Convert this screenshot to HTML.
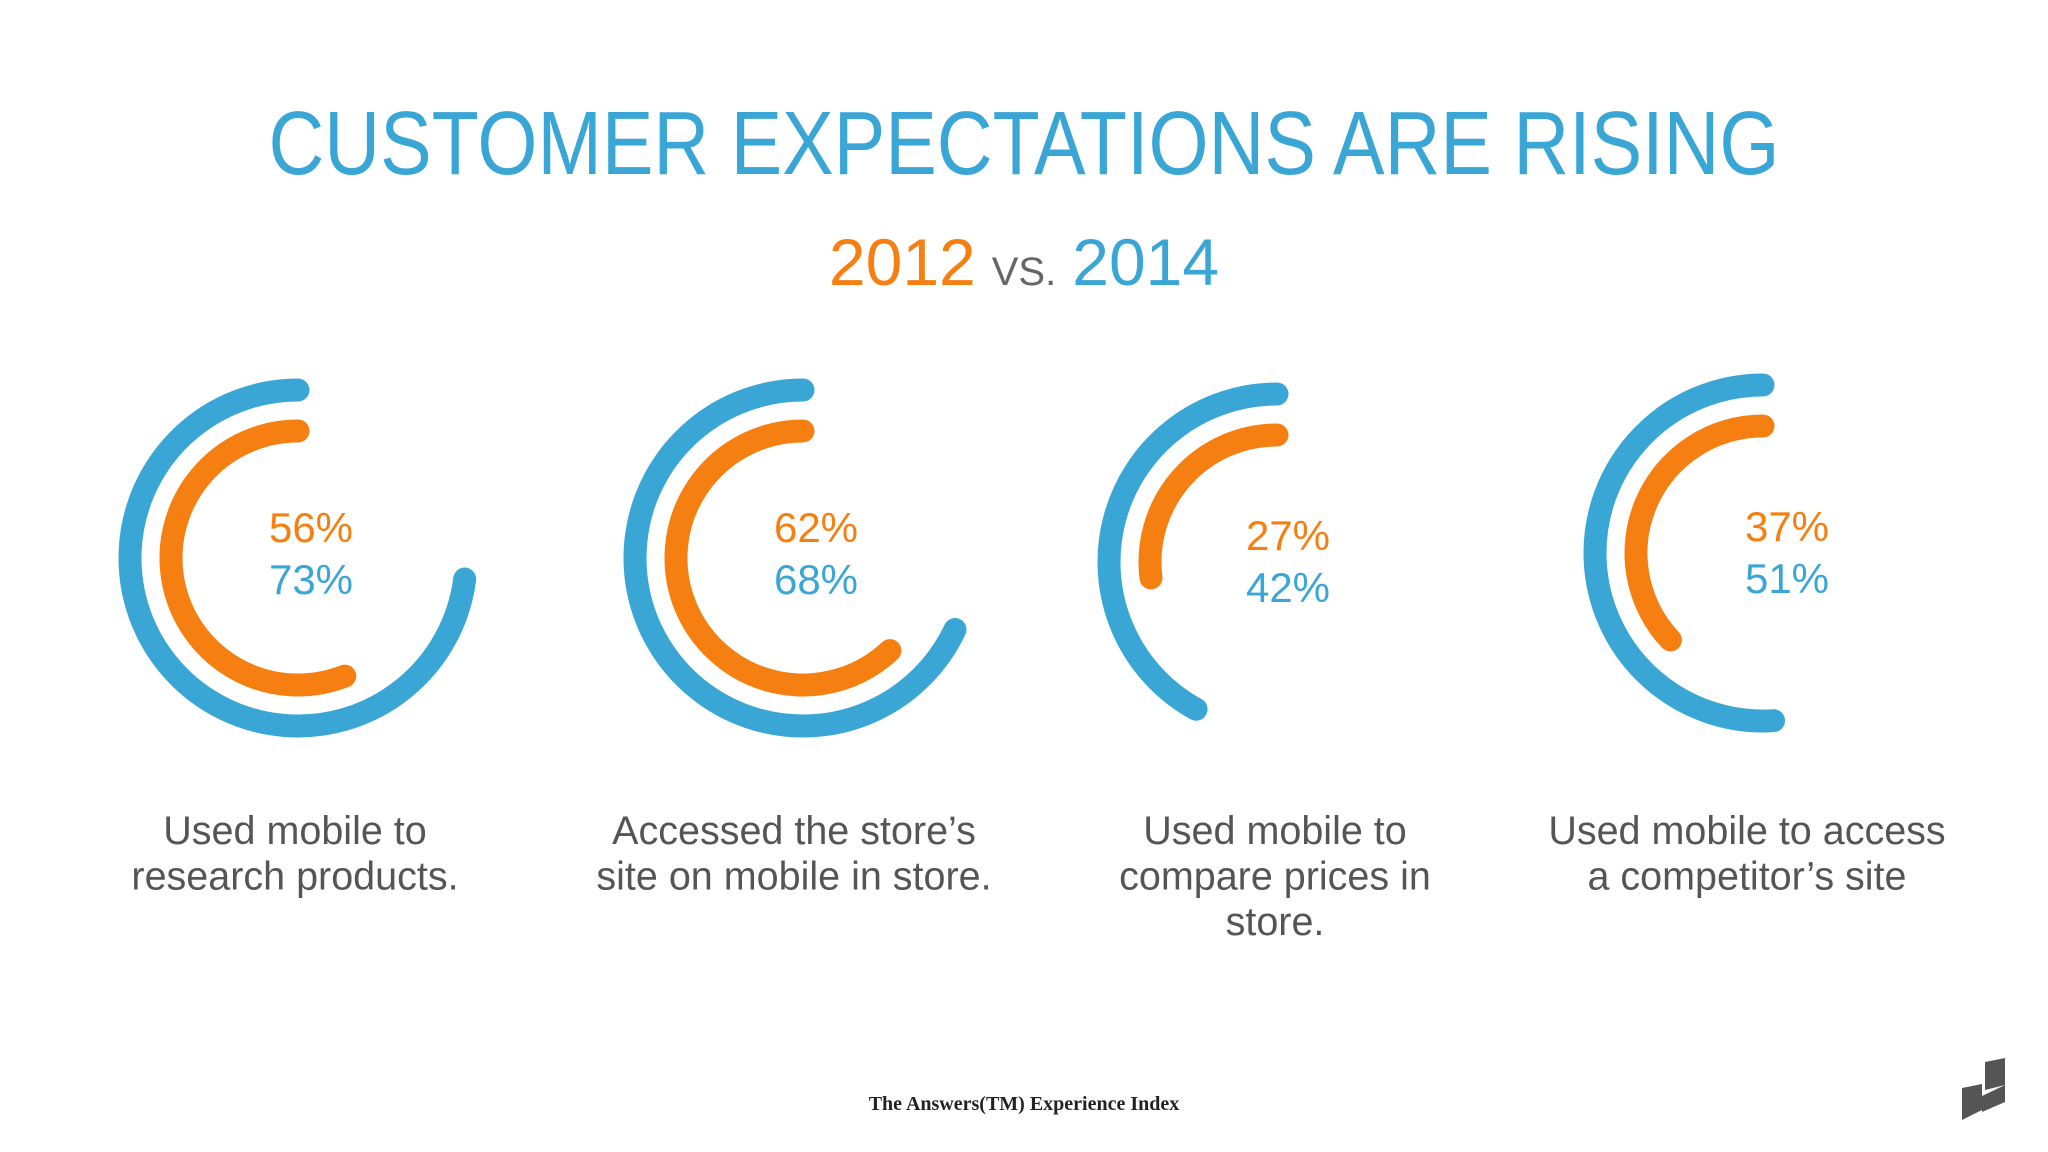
<!DOCTYPE html>
<html><head><meta charset="utf-8"><style>
html,body{margin:0;padding:0;background:#fff;}
svg{display:block;font-family:"Liberation Sans",sans-serif;}
</style></head><body>
<svg id="chart" width="2048" height="1152" viewBox="0 0 2048 1152">
<rect x="0" y="0" width="2048" height="1152" fill="#ffffff"/>
<text x="1024" y="174" text-anchor="middle" font-size="90" fill="#3aa6d6" textLength="1511" lengthAdjust="spacingAndGlyphs" style="font-weight:normal">CUSTOMER EXPECTATIONS ARE RISING</text>
<text x="1024" y="285" text-anchor="middle" font-size="66">
<tspan fill="#f57f10">2012</tspan><tspan fill="#666" font-size="40" dx="16">VS.</tspan><tspan fill="#3aa6d6" dx="16">2014</tspan>
</text>
<g id="donuts"></g>
<text x="1024" y="1110" text-anchor="middle" font-size="20" font-family="Liberation Serif, serif" font-weight="bold" fill="#222">The Answers(TM) Experience Index</text>
<g fill="#555">
<polygon points="1985,1062 2005,1058 2005,1085 1985,1090"/>
<polygon points="1962,1088 1982,1084 1982,1110 1962,1120"/>
<polygon points="1982,1096 2005,1085 2005,1102 1982,1112"/>
</g>
</svg>
<script>
const categories = ["research","store-site","compare-prices","competitor-site"];
const values2012 = [56, 62, 27, 37];
const values2014 = [73, 68, 42, 51];
const labelsText = [["Used mobile to","research products."],["Accessed the store\u2019s","site on mobile in store."],["Used mobile to","compare prices in","store."],["Used mobile to access","a competitor\u2019s site"]];

const centers = [[298,558],[803,558],[1277,562],[1763,553]];
const textX = [311,816,1288,1787];
const labelX = [295,794,1275,1747];
const rOuter = 168, rInner = 127, sw = 23;
const NS = "http://www.w3.org/2000/svg";
const g = document.getElementById("donuts");

function pt(cx, cy, r, f){ const t = f/100*2*Math.PI; return [cx - r*Math.sin(t), cy - r*Math.cos(t)]; }
function arcPath(cx, cy, r, v){
  const s = pt(cx,cy,r,0), e = pt(cx,cy,r,v);
  const large = v > 50 ? 1 : 0;
  return `M${s[0]},${s[1]} A${r},${r} 0 ${large} 0 ${e[0]},${e[1]}`;
}
categories.forEach((c,i)=>{
  const [cx,cy] = centers[i];
  const p1 = document.createElementNS(NS,"path");
  
  
  p1.setAttribute("d", arcPath(cx,cy,rOuter,values2014[i]));
  p1.setAttribute("fill","none"); p1.setAttribute("stroke","#3aa6d6");
  p1.setAttribute("stroke-width",sw); p1.setAttribute("stroke-linecap","round");
  g.appendChild(p1);
  const p2 = document.createElementNS(NS,"path");
  
  
  p2.setAttribute("d", arcPath(cx,cy,rInner,values2012[i]));
  p2.setAttribute("fill","none"); p2.setAttribute("stroke","#f57f10");
  p2.setAttribute("stroke-width",sw); p2.setAttribute("stroke-linecap","round");
  g.appendChild(p2);
  const yOff = (i>=2) ? 4 : 0;
  const t1 = document.createElementNS(NS,"text");
  
  
  t1.setAttribute("x", textX[i]); t1.setAttribute("y", cy - 16 + yOff);
  t1.setAttribute("text-anchor","middle"); t1.setAttribute("font-size","42"); t1.setAttribute("fill","#f57f10");
  t1.textContent = values2012[i] + "%";
  g.appendChild(t1);
  const t2 = document.createElementNS(NS,"text");
  
  
  t2.setAttribute("x", textX[i]); t2.setAttribute("y", cy + 36 + yOff);
  t2.setAttribute("text-anchor","middle"); t2.setAttribute("font-size","42"); t2.setAttribute("fill","#3aa6d6");
  t2.textContent = values2014[i] + "%";
  g.appendChild(t2);
  labelsText[i].forEach((line,j)=>{
    const l = document.createElementNS(NS,"text");
    
    
    l.setAttribute("x", labelX[i]); l.setAttribute("y", 844 + j*45.5);
    l.setAttribute("text-anchor","middle"); l.setAttribute("font-size","39.5"); l.setAttribute("fill","#555");
    l.textContent = line;
    g.appendChild(l);
  });
});
</script>
</body></html>
